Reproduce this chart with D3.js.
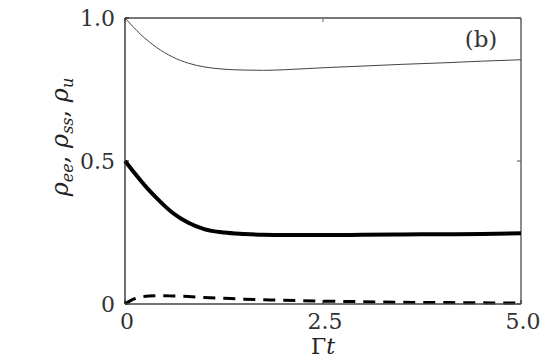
<!DOCTYPE html>
<html>
<head>
<meta charset="utf-8">
<script src="https://cdn.jsdelivr.net/npm/d3@7"></script>
<style>
  html, body { margin: 0; padding: 0; background: #fff; }
  svg { display: block; }
  svg text { font-family: "DejaVu Serif", "Liberation Serif", serif; }
</style>
</head>
<body>
<svg id="chart"></svg>
<script>
// Γt grid and the three populations
const times = [0, 0.1, 0.2, 0.3, 0.4, 0.5, 0.6, 0.8, 1.0, 1.25, 1.5, 1.75, 2, 2.5, 3, 3.5, 4, 4.5, 5]
const rhoU = [1.0, 0.97, 0.942, 0.918, 0.897, 0.879, 0.864, 0.842, 0.829, 0.821, 0.818, 0.817, 0.819, 0.826, 0.832, 0.838, 0.843, 0.849, 0.854]
const rhoSs = [0.5, 0.465, 0.431, 0.399, 0.37, 0.343, 0.319, 0.284, 0.262, 0.25, 0.245, 0.242, 0.241, 0.241, 0.242, 0.243, 0.244, 0.245, 0.247]
const rhoEe = [0, 0.016, 0.024, 0.028, 0.029, 0.029, 0.028, 0.026, 0.023, 0.02, 0.017, 0.015, 0.013, 0.01, 0.008, 0.006, 0.005, 0.004, 0.003]
const xTicks = [0, 2.5, 5]
const xTickLabels = ['0', '2.5', '5.0']
const yTicks = [0, 0.5, 1]
const yTickLabels = ['0', '0.5', '1.0']

const W = 549
const H = 361
const padL = 125
const padT = 18
const plotR = 521
const plotB = 304

const svg = d3.select('#chart').attr('width', W).attr('height', H)

const x = d3.scaleLinear().domain([0, 5]).range([padL, plotR])
const y = d3.scaleLinear().domain([0, 1]).range([plotB, padT])

const line = (vals) =>
  d3
    .line()
    .x((_, i) => x(times[i]))
    .y((d) => y(d))
    .curve(d3.curveMonotoneX)(vals)

// frame: top/right grey, left/bottom dark
svg.append('line').attr('x1', padL).attr('x2', plotR).attr('y1', padT).attr('y2', padT)
  .attr('stroke', '#777').attr('stroke-width', 1.8)
svg.append('line').attr('x1', plotR).attr('x2', plotR).attr('y1', padT).attr('y2', plotB)
  .attr('stroke', '#666').attr('stroke-width', 1.5)

// inward ticks
const tickLen = 4
svg.append('g').selectAll('line').data(yTicks).enter().append('line')
  .attr('x1', plotR - tickLen).attr('x2', plotR)
  .attr('y1', (d) => y(d)).attr('y2', (d) => y(d))
  .attr('stroke', '#666').attr('stroke-width', 1.2)
svg.append('g').selectAll('line').data(yTicks).enter().append('line')
  .attr('x1', padL).attr('x2', padL + tickLen)
  .attr('y1', (d) => y(d)).attr('y2', (d) => y(d))
  .attr('stroke', '#333').attr('stroke-width', 1.2)
svg.append('g').selectAll('line').data(xTicks).enter().append('line')
  .attr('x1', (d) => x(d)).attr('x2', (d) => x(d))
  .attr('y1', plotB).attr('y2', plotB - tickLen)
  .attr('stroke', '#333').attr('stroke-width', 1.2)
svg.append('g').selectAll('line').data(xTicks).enter().append('line')
  .attr('x1', (d) => x(d)).attr('x2', (d) => x(d))
  .attr('y1', padT).attr('y2', padT + tickLen)
  .attr('stroke', '#777').attr('stroke-width', 1.2)

// curves
svg.append('path').attr('d', line(rhoU))
  .attr('fill', 'none').attr('stroke', '#444').attr('stroke-width', 1)
svg.append('path').attr('d', line(rhoSs))
  .attr('fill', 'none').attr('stroke', '#000').attr('stroke-width', 4)
svg.append('path').attr('d', line(rhoEe))
  .attr('fill', 'none').attr('stroke', '#000').attr('stroke-width', 3)
  .attr('stroke-dasharray', '12,8')

svg.append('line').attr('x1', padL).attr('x2', padL).attr('y1', padT).attr('y2', plotB)
  .attr('stroke', '#222').attr('stroke-width', 1.3)
svg.append('line').attr('x1', padL).attr('x2', plotR).attr('y1', plotB).attr('y2', plotB)
  .attr('stroke', '#444').attr('stroke-width', 1.4)

// tick labels
svg.append('g').selectAll('text').data(yTicks).enter().append('text')
  .attr('x', padL - 10)
  .attr('y', (d) => y(d) + 8)
  .attr('text-anchor', 'end')
  .attr('font-size', 22)
  .attr('fill', '#333')
  .text((_, i) => yTickLabels[i])

svg.append('g').selectAll('text').data(xTicks).enter().append('text')
  .attr('x', (d) => x(d) + 2)
  .attr('y', plotB + 25)
  .attr('text-anchor', 'middle')
  .attr('font-size', 22)
  .attr('fill', '#333')
  .text((_, i) => xTickLabels[i])

// axis titles
const xt = svg.append('text')
  .attr('x', 323).attr('y', 354)
  .attr('text-anchor', 'middle')
  .attr('font-size', 22)
  .attr('fill', '#222')
xt.append('tspan').text('Γ')
xt.append('tspan').attr('font-style', 'italic').text('t')

const yt = svg.append('text')
  .attr('transform', 'translate(68,137) rotate(-90)')
  .attr('text-anchor', 'middle')
  .attr('font-size', 24)
  .attr('fill', '#222')
const sub = (s) => yt.append('tspan').attr('font-size', 16).attr('font-style', 'italic').attr('dy', 5).text(s)
yt.append('tspan').attr('font-style', 'italic').text('ρ')
sub('ee')
yt.append('tspan').attr('dy', -5).text(', ')
yt.append('tspan').attr('font-style', 'italic').text('ρ')
sub('ss')
yt.append('tspan').attr('dy', -5).text(', ')
yt.append('tspan').attr('font-style', 'italic').text('ρ')
sub('u')

svg.append('text')
  .attr('x', 481).attr('y', 47)
  .attr('text-anchor', 'middle')
  .attr('font-size', 23)
  .attr('fill', '#333')
  .text('(b)')
</script>
</body>
</html>
